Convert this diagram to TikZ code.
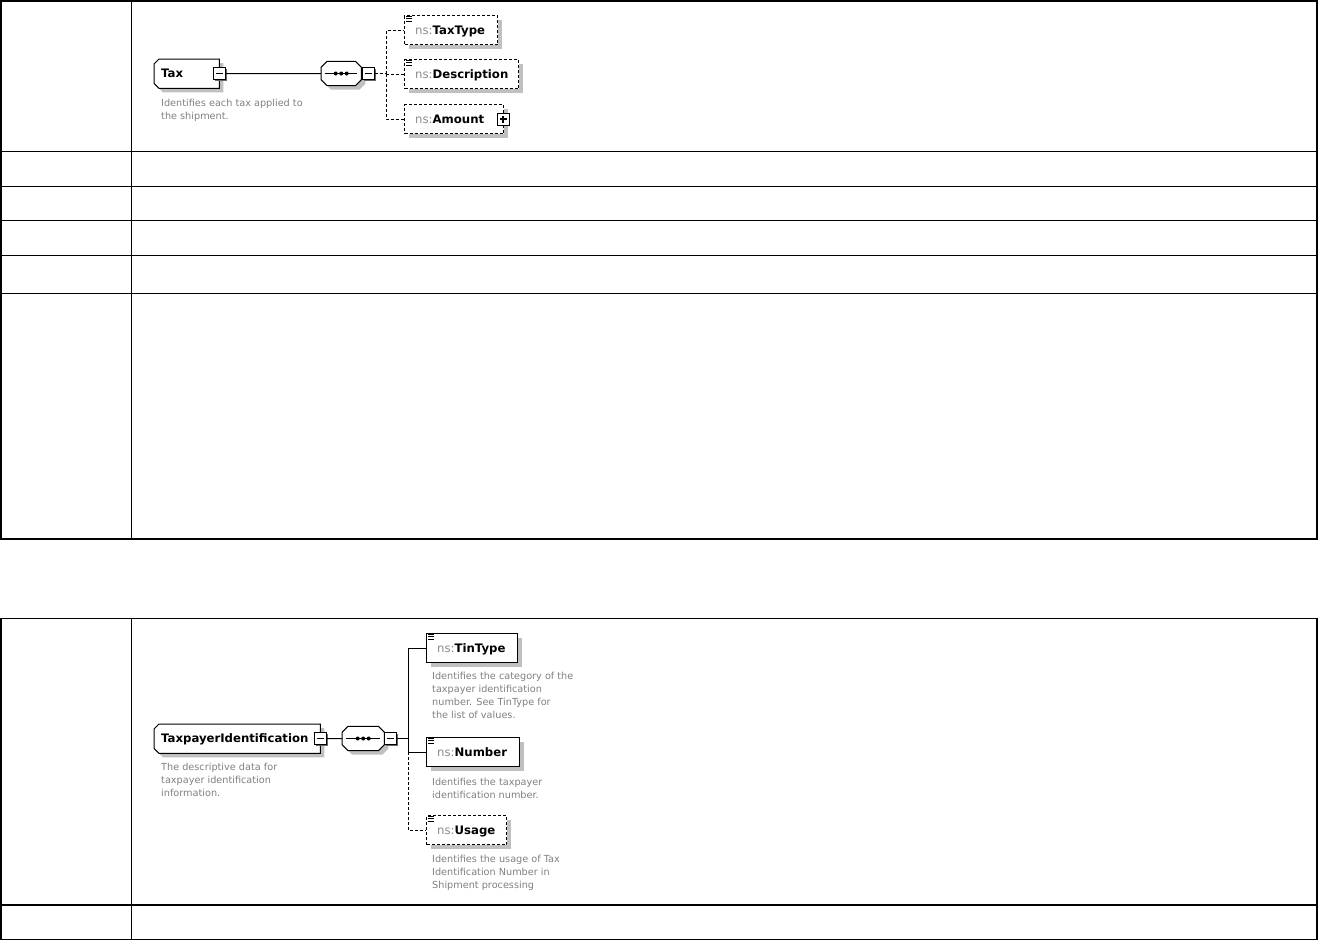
\documentclass[tikz,border=0pt]{standalone}
\usepackage{fontspec}
\setmainfont{DejaVu Sans}
\usetikzlibrary{shadows}
\definecolor{nsgray}{RGB}{140,140,140}
\definecolor{descgray}{RGB}{128,128,128}
\definecolor{shadowgray}{RGB}{192,192,192}
\newcommand\nsl[1]{{\color{nsgray}ns:}\textbf{#1}}
\newcommand\chshape[4]{%
  \draw[#4] ([xshift=#2]#1.north west) -- ([xshift=-#3]#1.north east) -- ([yshift=-#3]#1.north east)
   -- ([yshift=#3]#1.south east) -- ([xshift=-#3]#1.south east) -- ([xshift=#2]#1.south west)
   -- ([yshift=#2]#1.south west) -- ([yshift=-#2]#1.north west) -- cycle;}
\newcommand\docicon[1]{%
  \foreach \yy in {1.5,3.8,6.1}{\draw[line width=0.9pt] ([xshift=2pt,yshift=-\yy pt]#1.north west) -- ++(5.5pt,0pt);}}
\tikzset{
  tbl/.style={line width=1.2pt},
  sh/.style={drop shadow={shadow xshift=4pt,shadow yshift=-4pt,fill=shadowgray,opacity=1}},
  anchorbox/.style={rectangle, inner sep=0pt, draw=none},
  child/.style={rectangle, draw, line width=1pt, fill=white, inner sep=0pt, minimum height=29pt, anchor=north west, sh},
  opt/.style={dash pattern=on 3pt off 2pt},
  lbl/.style={font=\fontsize{11.7}{13}\selectfont, inner sep=0pt, anchor=west, text height=9pt, text depth=0.8pt},
  desc/.style={font=\fontsize{9.7}{13}\selectfont, text=descgray, align=left, inner sep=0pt, anchor=north west},
  conn/.style={line width=1pt},
  shapeline/.style={line width=1pt, fill=white, sh},
  ctrl/.style={rectangle, draw, fill=white, line width=1pt, minimum size=12pt, inner sep=0pt,
    drop shadow={shadow xshift=1.3pt,shadow yshift=-1.3pt,fill=black!60,opacity=1}},
  minusbox/.style={ctrl, path picture={\draw[line width=1.1pt] ([xshift=2.5pt]path picture bounding box.west) -- ([xshift=-2.5pt]path picture bounding box.east);}},
  plusbox/.style={ctrl, path picture={\draw[line width=1.1pt] ([xshift=2.5pt]path picture bounding box.west) -- ([xshift=-2.5pt]path picture bounding box.east) ([yshift=2.5pt]path picture bounding box.south) -- ([yshift=-2.5pt]path picture bounding box.north);}},
}
\begin{document}
\begin{tikzpicture}[x=1pt,y=-1pt]
\useasboundingbox (0,0) rectangle (1318,940);
% ---------- table 1
\draw[tbl] (1,1) rectangle (1317,539);
\foreach \yy in {151.3,186.3,220.3,255.3,293.5} \draw[tbl] (1,\yy) -- (1317,\yy);
\draw[tbl] (131.3,1) -- (131.3,539);
% ---------- table 2
\draw[tbl] (1,618.7) rectangle (1317,939.3);
\draw[tbl] (1,905) -- (1317,905);
\draw[tbl] (131.3,618.7) -- (131.3,939.3);

% ================= Tax diagram
\node[anchorbox, minimum width=65pt, minimum height=29pt, anchor=north west] (tax) at (154,59) {};
\chshape{tax}{5pt}{0pt}{shapeline}
\node[lbl] (taxlbl) at ([xshift=7pt]tax.west) {\textbf{Tax}};
\node[minusbox] (taxm) at (tax.east) {};
\node[desc] (taxdesc) at (161,99) {Identifies each tax applied to\\the shipment.};

\node[anchorbox, minimum width=40pt, minimum height=24pt, anchor=west] (seq1) at (321,73.5) {};
\chshape{seq1}{6pt}{6pt}{shapeline}
\draw[line width=1pt] ([xshift=4pt]seq1.west) -- ([xshift=-4pt]seq1.east);
\foreach \dx in {-5.5,0,5.5} \fill ([xshift=\dx pt]seq1.center) circle (2pt);
\node[minusbox] (seq1m) at ([xshift=7pt]seq1.east) {};

\draw[conn] (taxm.east) -- (seq1.west);
\coordinate (bus1) at (386,73.5);
\draw[conn,opt] (seq1m.east) -- (bus1);

\node[child,opt,minimum width=93pt] (taxtype) at (404,15) {};
\node[child,opt,minimum width=114pt] (descr) at (404,59) {};
\node[child,opt,minimum width=99pt] (amount) at (404,104) {};
\draw[conn,opt] (bus1) |- (taxtype.west);
\draw[conn,opt] (bus1) |- (descr.west);
\draw[conn,opt] (bus1) |- (amount.west);
\node[lbl] (taxtypelbl) at ([xshift=11pt]taxtype.west) {\nsl{TaxType}};
\node[lbl] (descrlbl) at ([xshift=11pt]descr.west) {\nsl{Description}};
\node[lbl] (amountlbl) at ([xshift=11pt]amount.west) {\nsl{Amount}};
\docicon{taxtype}
\docicon{descr}
\node[plusbox] (amountp) at ([xshift=-1pt]amount.east) {};

% ================= TaxpayerIdentification diagram
\node[anchorbox, minimum width=166pt, minimum height=29pt, anchor=north west] (tp) at (154,724) {};
\chshape{tp}{5pt}{0pt}{shapeline}
\node[lbl] (tplbl) at ([xshift=7pt]tp.west) {\textbf{TaxpayerIdentification}};
\node[minusbox] (tpm) at (tp.east) {};
\node[desc] (tpdesc) at (161,762.5) {The descriptive data for\\taxpayer identification\\information.};

\node[anchorbox, minimum width=42pt, minimum height=24pt, anchor=west] (seq2) at (342,738.5) {};
\chshape{seq2}{6pt}{6pt}{shapeline}
\draw[line width=1pt] ([xshift=4pt]seq2.west) -- ([xshift=-4pt]seq2.east);
\foreach \dx in {-5.5,0,5.5} \fill ([xshift=\dx pt]seq2.center) circle (2pt);
\node[minusbox] (seq2m) at ([xshift=6.5pt]seq2.east) {};

\draw[conn] (tpm.east) -- (seq2.west);
\coordinate (bus2) at (408,738.5);
\draw[conn] (seq2m.east) -- (bus2);

\node[child,minimum width=91pt] (tintype) at (426,633) {};
\node[child,minimum width=93pt] (number) at (426,737) {};
\node[child,opt,minimum width=80pt] (usage) at (426,815) {};
\draw[conn] (bus2) |- (tintype.west);
\draw[conn] (bus2) |- (number.west);
\draw[conn,opt] (bus2 |- number.west) |- (usage.west);
\node[lbl] (tintypelbl) at ([xshift=11pt]tintype.west) {\nsl{TinType}};
\node[lbl] (numberlbl) at ([xshift=11pt]number.west) {\nsl{Number}};
\node[lbl] (usagelbl) at ([xshift=11pt]usage.west) {\nsl{Usage}};
\docicon{tintype}
\docicon{number}
\docicon{usage}
\node[desc] (tintypedesc) at (432,672) {Identifies the category of the\\taxpayer identification\\number. See TinType for\\the list of values.};
\node[desc] (numberdesc) at (432,777.5) {Identifies the taxpayer\\identification number.};
\node[desc] (usagedesc) at (432,855) {Identifies the usage of Tax\\Identification Number in\\Shipment processing};
\end{tikzpicture}
\end{document}
